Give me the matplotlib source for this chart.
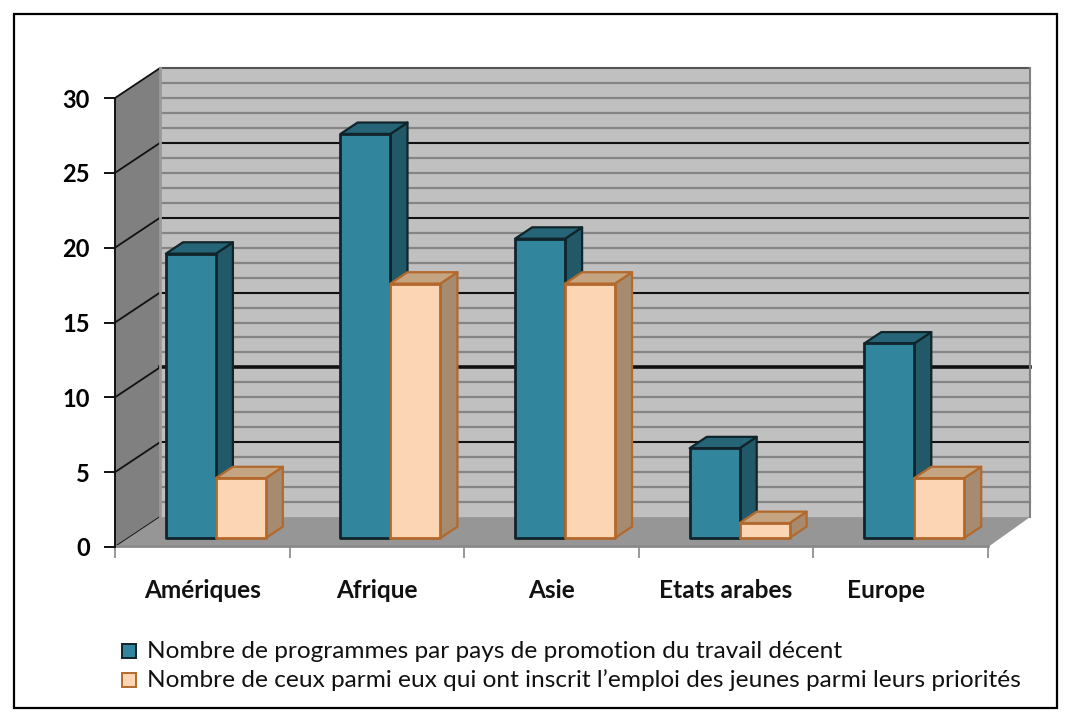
import numpy as np
import matplotlib
matplotlib.use('Agg')
import matplotlib.pyplot as plt
from matplotlib.patches import Polygon, Rectangle

categories = ['Amériques', 'Afrique', 'Asie', 'Etats arabes', 'Europe']
programmes = [19, 27, 20, 6, 13]
jeunes = [4, 17, 17, 1, 4]
serie_labels = ['Nombre de programmes par pays de promotion du travail décent',
                'Nombre de ceux parmi eux qui ont inscrit l’emploi des jeunes parmi leurs priorités']
y_ticks = [0, 5, 10, 15, 20, 25, 30]

W, H = 1071, 722
FONT = ['Lato', 'DejaVu Sans']

fig = plt.figure(figsize=(W / 100, H / 100), dpi=100)
# front plane of the fake 3D box
ax = fig.add_axes([115 / W, 1 - 547 / H, 873 / W, 449 / H])
ax.set_xlim(0, len(categories))
ax.set_ylim(0, 30)
ax.patch.set_alpha(0)
for s in ['top', 'right', 'bottom']:
    ax.spines[s].set_visible(False)
ax.spines['left'].set_linewidth(1.4)
ax.spines['left'].set_color('#111111')

DX = 45 / (873 / len(categories))
DY = 2.0
bar_w = 0.286


def proj(x, v, d):
    return (x + d * DX, v + d * DY)


def poly(pts, fc, ec='none', lw=0, z=1):
    ax.add_patch(Polygon(pts, closed=True, fc=fc, ec=ec, lw=lw, zorder=z,
                         clip_on=False, joinstyle='round'))


n = len(categories)
xend = n - 0.017
# walls and floor
poly([proj(0, 0, 0), proj(0, 0, 1), proj(0, 30, 1), proj(0, 30, 0)], '#808080', z=1)
poly([proj(0, 0, 1), proj(xend, 0, 1), proj(xend, 30, 1), proj(0, 30, 1)], '#c0c0c0', z=1)
poly([proj(0, 0, 0), proj(0, 0, 1), proj(xend, 0, 1), proj(n, 0, 0)], '#969696', z=2)
ax.plot(*zip(proj(xend, 0, 1), proj(xend, 30, 1)), color='#808080', lw=1.5, zorder=2, clip_on=False)
ax.plot(*zip(proj(0, 0, 1), proj(0, 30, 1)), color='#9a9a9a', lw=2, zorder=2, clip_on=False)
ax.plot([0, n], [0.1, 0.1], color='#8a8a8a', lw=2, zorder=2, clip_on=False)

# grid on the back wall
for v in range(1, 31):
    if v % 5 == 0:
        continue
    ax.plot(*zip(proj(0, v, 1), proj(xend, v, 1)), color='#858585', lw=1.6, zorder=1.5, clip_on=False)
for v in y_ticks[1:]:
    col = '#555555' if v == 30 else '#111111'
    lw = 2.6 if v == 10 else 1.5
    ax.plot(*zip(proj(0, v, 1), proj(xend, v, 1)), color=col, lw=lw, zorder=1.6, clip_on=False)
for v in y_ticks:
    ax.plot(*zip(proj(0, v, 0), proj(0, v, 1)), color='#111111', lw=1.3, zorder=1.6, clip_on=False)


def bar3d(x0, val, front, side, top, edge, z):
    x1 = x0 + bar_w
    d0, d1 = 0.3, 0.68
    poly([proj(x1, 0, d0), proj(x1, 0, d1), proj(x1, val, d1), proj(x1, val, d0)], side, edge, 1.6, z)
    poly([proj(x0, val, d0), proj(x1, val, d0), proj(x1, val, d1), proj(x0, val, d1)], top, edge, 1.6, z)
    poly([proj(x0, 0, d0), proj(x1, 0, d0), proj(x1, val, d0), proj(x0, val, d0)], front, edge, 2, z + 0.1)


# bars, category by category
for i in range(n):
    left = i + 0.5 - bar_w
    bar3d(left, programmes[i], '#31859c', '#215968', '#266577', '#10242a', 3 + i)
    bar3d(left + bar_w, jeunes[i], '#fcd5b5', '#a68b70', '#c5a482', '#b3692b', 3.4 + i)

# axes ticks and labels
ax.set_yticks(y_ticks)
ax.set_xticks(np.arange(n + 1))
ax.set_xticklabels([])
ax.tick_params(axis='y', length=8, width=1.4, color='#111111', pad=10)
ax.tick_params(axis='x', length=8, width=1.4, color='#999999')
for t in ax.get_yticklabels():
    t.set_fontfamily(FONT)
    t.set_fontweight('bold')
    t.set_fontsize(17)
for i, c in enumerate(categories):
    shift = -15 if c == 'Europe' else 0
    ax.annotate(c, xy=(i + 0.5, 0), xycoords='data', xytext=(shift * 0.72, -43 * 0.72),
                textcoords='offset points', ha='center', va='center',
                family=FONT, fontweight='bold', fontsize=17.6, color='#111111')

# legend written by hand to stick to the source layout
for lab, col, edge, yp in [(serie_labels[0], '#31859c', '#10242a', 651),
                           (serie_labels[1], '#fcd5b5', '#b3692b', 680)]:
    fig.add_artist(Rectangle((122 / W, 1 - (yp + 7) / H), 14 / W, 14 / H, fc=col, ec=edge, lw=1.4,
                             transform=fig.transFigure))
    fig.text(147 / W, 1 - yp / H, lab, family=FONT, fontsize=17.6, va='center', ha='left', color='#111111')

# frame
fig.add_artist(Rectangle((14 / W, 1 - 708 / H), 1043 / W, 694 / H, fc='none', ec='black', lw=1.6,
                         transform=fig.transFigure))

fig.savefig('out.png', dpi=100)
